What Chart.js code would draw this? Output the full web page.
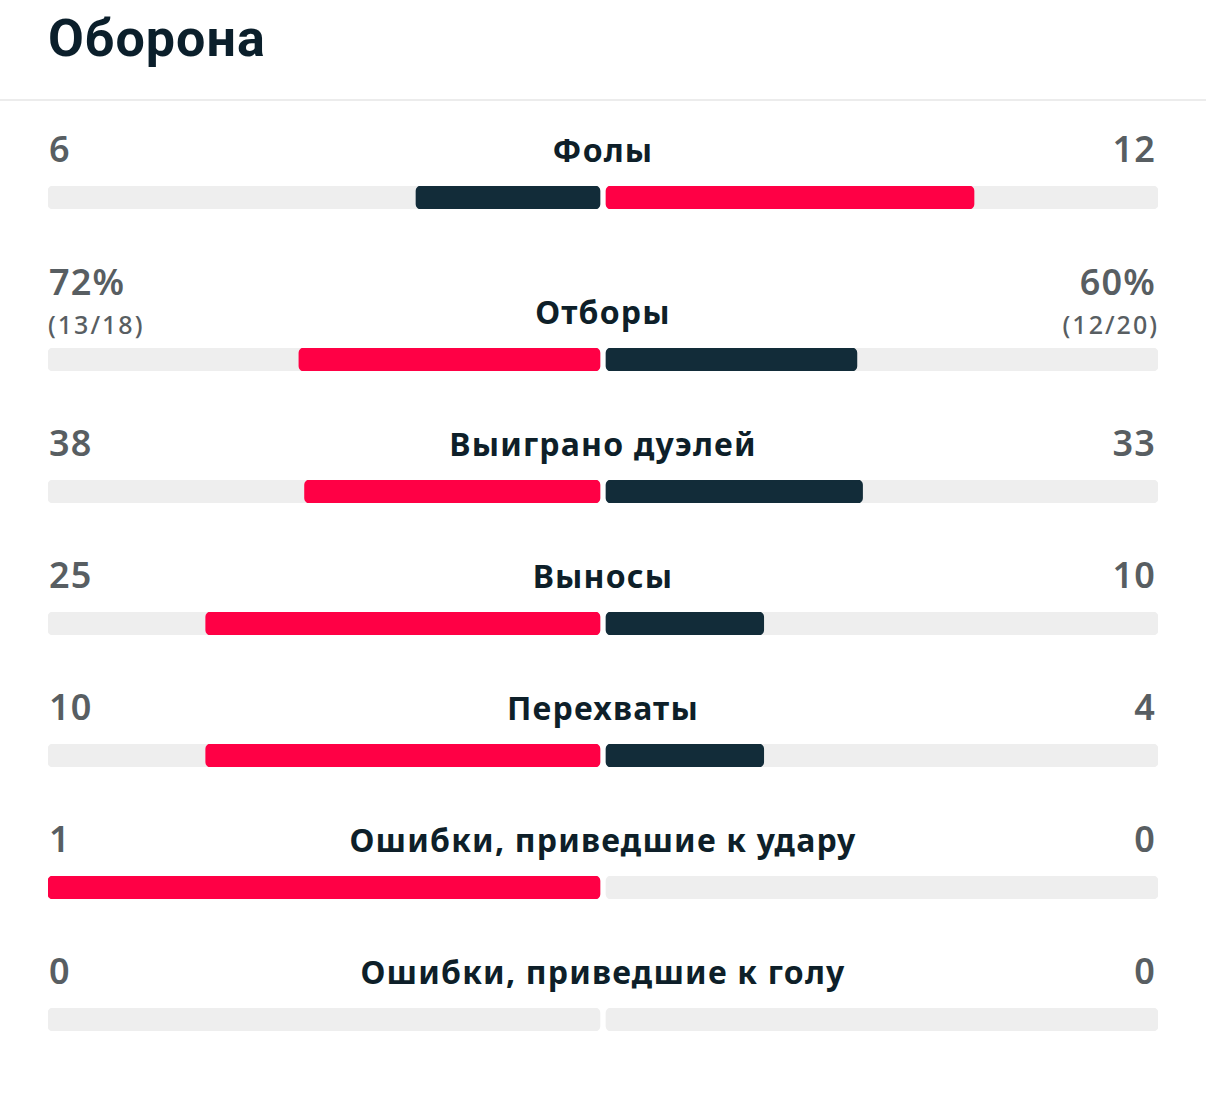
<!DOCTYPE html>
<html>
<head>
<meta charset="utf-8">
<script src="https://cdn.jsdelivr.net/npm/chart.js@4"></script>
<style>
    html, body { margin: 0; padding: 0; background: #ffffff; }
    body { width: 1206px; height: 1097px; overflow: hidden; font-family: "Noto Sans", Roboto, sans-serif; }
    .title { position: absolute; left: 48px; top: 13px; font-family: Roboto, sans-serif; font-size: 52px; line-height: 52px; font-weight: 700; color: #0b1f2b; letter-spacing: 1px; }
    .sep { position: absolute; left: 0; top: 99px; width: 1206px; height: 2px; background: #ececec; }
    .rows { position: absolute; left: 48px; top: 120px; width: 1110px; }
    .row { position: relative; margin-bottom: 43px; }
    .head { position: relative; height: 66px; }
    .head.tall { height: 96px; }
    .val { position: absolute; font-size: 36px; line-height: 36px; font-weight: 600; color: #585e62; letter-spacing: 1.2px; }
    .val.l { left: 1px; }
    .val.r { right: 2px; text-align: right; }
    .sub { position: absolute; font-size: 25px; line-height: 25px; font-weight: 500; color: #585e62; letter-spacing: 2px; }
    .sub.l { left: 0; }
    .sub.r { right: -1px; text-align: right; }
    .lab { position: absolute; left: 0; right: 0; text-align: center; font-size: 32px; line-height: 32px; font-weight: 700; color: #0e1f29; letter-spacing: 1.2px; }
    .bar { position: relative; width: 1110px; height: 23px; }
</style>
</head>
<body>
<div class="title">Оборона</div>
<div class="sep"></div>
<div class="rows" id="rows"></div>

<script>
//// Declarations states

// Data
const statLabels = ['Фолы', 'Отборы', 'Выиграно дуэлей', 'Выносы', 'Перехваты', 'Ошибки, приведшие к удару', 'Ошибки, приведшие к голу'];
const homeValues = [6, 72, 38, 25, 10, 1, 0];
const awayValues = [12, 60, 33, 10, 4, 0, 0];
const valueUnits = ['', '%', '', '', '', '', ''];
const homeDetails = ['', '(13/18)', '', '', '', '', ''];
const awayDetails = ['', '(12/20)', '', '', '', '', ''];

// Styles
const colors = {
    win: '#ff0045',
    lose: '#122c39',
    track: '#eeeeee'
};
const halfGap = 3 / 555; // 6px gap between halves, axis spans 1110px

// Functions
const buildRow = (i) => {
    const row = document.createElement('div');
    row.className = 'row';
    const hasDetail = homeDetails[i] !== '' || awayDetails[i] !== '';
    const head = document.createElement('div');
    head.className = hasDetail ? 'head tall' : 'head';
    if (hasDetail) {
        head.innerHTML =
            `<div class="val l" style="top:12px">${homeValues[i]}${valueUnits[i]}</div>` +
            `<div class="sub l" style="top:60px">${homeDetails[i]}</div>` +
            `<div class="lab" style="top:44px">${statLabels[i]}</div>` +
            `<div class="val r" style="top:12px">${awayValues[i]}${valueUnits[i]}</div>` +
            `<div class="sub r" style="top:60px">${awayDetails[i]}</div>`;
    } else {
        head.innerHTML =
            `<div class="val l" style="top:11px">${homeValues[i]}${valueUnits[i]}</div>` +
            `<div class="lab" style="top:14px">${statLabels[i]}</div>` +
            `<div class="val r" style="top:11px">${awayValues[i]}${valueUnits[i]}</div>`;
    }
    const barBox = document.createElement('div');
    barBox.className = 'bar';
    const canvas = document.createElement('canvas');
    barBox.appendChild(canvas);
    row.appendChild(head);
    row.appendChild(barBox);
    document.getElementById('rows').appendChild(row);
    return canvas;
}

const rowChart = (canvas, i) => {
    const home = homeValues[i];
    const away = awayValues[i];
    const total = home + away;
    const homeShare = total > 0 ? home / total : 0;
    const awayShare = total > 0 ? away / total : 0;
    const homeColor = home >= away ? colors.win : colors.lose;
    const awayColor = away > home ? colors.win : colors.lose;

    new Chart(canvas, {
        type: 'bar',
        data: {
            labels: [statLabels[i]],
            datasets: [
                { data: [[-1, -halfGap]], backgroundColor: colors.track, order: 2 },
                { data: [[halfGap, 1]], backgroundColor: colors.track, order: 2 },
                { data: [homeShare > 0 ? [-(halfGap + homeShare * (1 - halfGap)), -halfGap] : null], backgroundColor: homeColor, order: 1 },
                { data: [awayShare > 0 ? [halfGap, halfGap + awayShare * (1 - halfGap)] : null], backgroundColor: awayColor, order: 1 }
            ]
        },
        options: {
            indexAxis: 'y',
            responsive: true,
            maintainAspectRatio: false,
            animation: false,
            events: [],
            layout: { padding: 0 },
            datasets: {
                bar: {
                    grouped: false,
                    barPercentage: 1,
                    categoryPercentage: 1,
                    borderRadius: 5,
                    borderSkipped: false
                }
            },
            plugins: {
                legend: { display: false },
                tooltip: { enabled: false }
            },
            scales: {
                x: { type: 'linear', min: -1, max: 1, display: false },
                y: { display: false }
            }
        }
    });
}

//// Executions state
statLabels.forEach((label, i) => {
    const canvas = buildRow(i);
    rowChart(canvas, i);
});
</script>
</body>
</html>
